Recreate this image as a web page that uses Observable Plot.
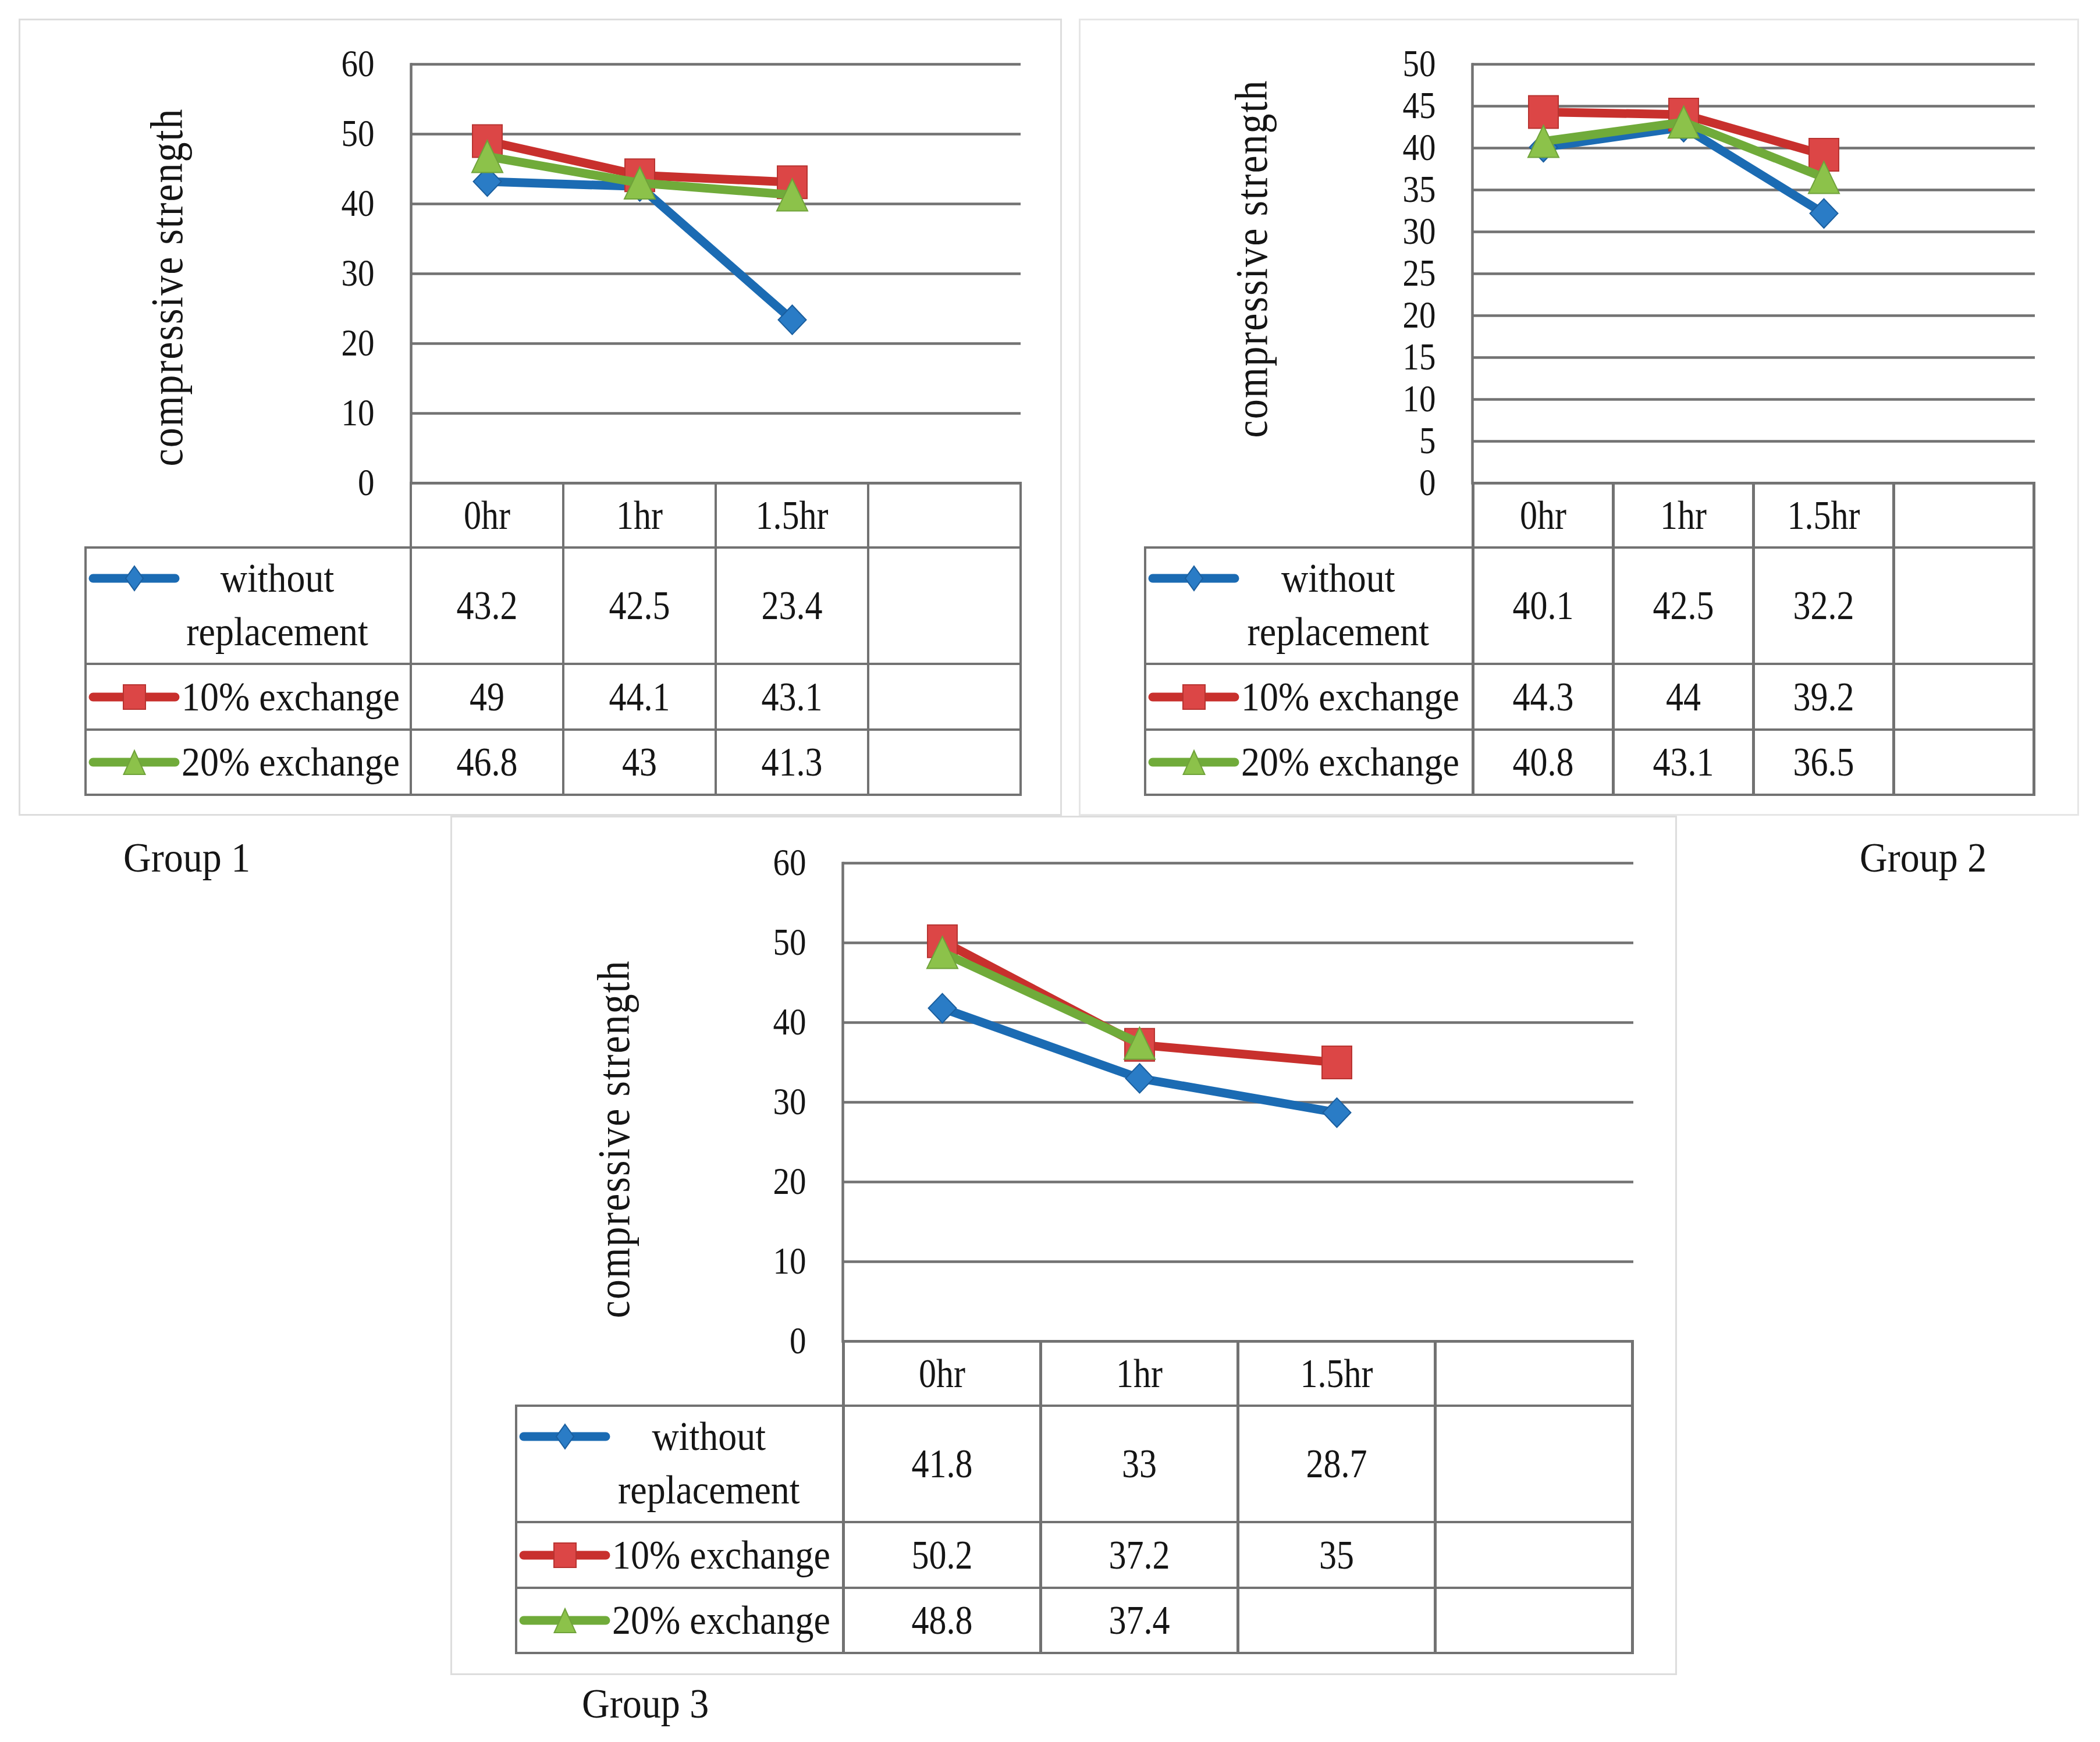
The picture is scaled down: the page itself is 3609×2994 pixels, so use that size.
<!DOCTYPE html>
<html>
<head>
<meta charset="utf-8">
<script src="https://cdn.jsdelivr.net/npm/d3@7"></script>
<script src="https://cdn.jsdelivr.net/npm/@observablehq/plot@0.6"></script>
<style>
  html, body { margin: 0; padding: 0; background: #fff; }
  body { width: 3609px; height: 2994px; position: relative; overflow: hidden;
         font-family: "Liberation Serif", "DejaVu Serif", serif; color: #151515; }
  .box { position: absolute; box-sizing: border-box; border: 3px solid #dddddd; }
  .abs { position: absolute; }
  .ln { position: absolute; background: #727272; }
  .cell { position: absolute; display: flex; align-items: center; justify-content: center;
          font-size: 60px; line-height: 1; white-space: nowrap; }
  .st { display: inline-block; transform: scaleY(1.17); }
  .st2 { display: inline-block; transform: scaleY(1.1); }
  .glabel { position: absolute; font-size: 66px; line-height: 66px; white-space: nowrap; }
  svg.plotsvg { position: absolute; overflow: visible; }
</style>
</head>
<body>
<script>
// ---------- data ----------
const times = ["0hr", "1hr", "1.5hr", ""];          // 4th column of the data table is empty
const seriesNames = ["without replacement", "10% exchange", "20% exchange"];

const g1Without = [43.2, 42.5, 23.4];
const g1Ex10    = [49, 44.1, 43.1];
const g1Ex20    = [46.8, 43, 41.3];

const g2Without = [40.1, 42.5, 32.2];
const g2Ex10    = [44.3, 44, 39.2];
const g2Ex20    = [40.8, 43.1, 36.5];

const g3Without = [41.8, 33, 28.7];
const g3Ex10    = [50.2, 37.2, 35];
const g3Ex20    = [48.8, 37.4, null];

const ticks60 = [0, 10, 20, 30, 40, 50, 60];
const ticks50 = [0, 5, 10, 15, 20, 25, 30, 35, 40, 45, 50];

const yTitle = "compressive strength";
const groupLabels = ["Group 1", "Group 2", "Group 3"];

// ---------- styles ----------
const GRID = "#727272";
const TEXT = "#151515";
const lineColors   = ["#1b6bb3", "#c8302d", "#70ab3a"];
const fillColors   = ["#2a7cc6", "#dc4646", "#8cc24a"];
const strokeColors = ["#1a5e9e", "#b83330", "#6fa23a"];

// marker shapes (slightly taller than wide, like the reference)
const symDiamond = {draw(c, size) { const r = Math.sqrt(size / Math.PI), hw = r, hh = r * 1.05;
  c.moveTo(0, -hh); c.lineTo(hw, 0); c.lineTo(0, hh); c.lineTo(-hw, 0); c.closePath(); }};
const symSquare = {draw(c, size) { const r = Math.sqrt(size / Math.PI), hw = r * 0.91, hh = r;
  c.moveTo(-hw, -hh); c.lineTo(hw, -hh); c.lineTo(hw, hh); c.lineTo(-hw, hh); c.closePath(); }};
const symTriangle = {draw(c, size) { const r = Math.sqrt(size / Math.PI), hw = r * 0.964;
  c.moveTo(0, -r); c.lineTo(hw, r); c.lineTo(-hw, r); c.closePath(); }};
const symbols = [symDiamond, symSquare, symTriangle];
const radii = [24, 28, 27.5];
const rowHeights = [111, 200, 113, 112];

const groups = [
  { series: [g1Without, g1Ex10, g1Ex20], ticks: ticks60,
    box: [32, 32, 1825, 1402], svgLeft: 32, svgTop: 32, width: 1793, height: 798,
    marginLeft: 674, marginRight: 71, marginTop: 78,
    titleDx: -419, titleDy: 23, tableLeft: 147, tableTop: 830,
    label: [212, 1441] },
  { series: [g2Without, g2Ex10, g2Ex20], ticks: ticks50,
    box: [1854, 32, 3573, 1402], svgLeft: 1854, svgTop: 32, width: 1717, height: 798,
    marginLeft: 676, marginRight: 74, marginTop: 78,
    titleDx: -379, titleDy: -26, tableLeft: 1968, tableTop: 830,
    label: [3196, 1441], faint: true },
  { series: [g3Without, g3Ex10, g3Ex20], ticks: ticks60,
    box: [774, 1402, 2882, 2879], svgLeft: 774, svgTop: 1402, width: 2108, height: 903,
    marginLeft: 674, marginRight: 75, marginTop: 81,
    titleDx: -393, titleDy: 63, tableLeft: 887, tableTop: 2305,
    label: [1000, 2895] }
];

function el(tag, cls, style, html, parent) {
  const e = document.createElement(tag);
  if (cls) e.className = cls;
  if (style) Object.assign(e.style, style);
  if (html != null) e.innerHTML = html;
  (parent || document.body).appendChild(e);
  return e;
}
const LW = 4.5;
function hline(x1, x2, y) { el("div", "ln", {left: (x1 - LW / 2) + "px", top: (y - LW / 2) + "px", width: (x2 - x1 + LW) + "px", height: LW + "px"}); }
function vline(x, y1, y2) { el("div", "ln", {left: (x - LW / 2) + "px", top: (y1 - LW / 2) + "px", width: LW + "px", height: (y2 - y1 + LW) + "px"}); }

function legendKey(si) {
  const c = 84, m = 30;
  let shape;
  if (si === 0) shape = `<path d="M${c},${m-21}L${c+15},${m}L${c},${m+21}L${c-15},${m}Z" fill="${fillColors[0]}" stroke="${strokeColors[0]}" stroke-width="2"/>`;
  else if (si === 1) shape = `<rect x="${c-19}" y="${m-21}" width="38" height="42" fill="${fillColors[1]}" stroke="${strokeColors[1]}" stroke-width="2"/>`;
  else shape = `<path d="M${c},${m-20}L${c+18.5},${m+21}L${c-18.5},${m+21}Z" fill="${fillColors[2]}" stroke="${strokeColors[2]}" stroke-width="2"/>`;
  return `<svg width="170" height="60" style="position:absolute;left:0;top:-30px;overflow:visible">
    <line x1="13" x2="154" y1="${m}" y2="${m}" stroke="${lineColors[si]}" stroke-width="15" stroke-linecap="round"/>${shape}</svg>`;
}

// stretch SVG glyphs vertically (the reference type is tall and narrow)
function stretchText(svg, k) {
  svg.querySelectorAll("text").forEach(t => {
    const tr = t.getAttribute("transform");
    if (tr) t.setAttribute("transform", tr + ` scale(1,${k})`);
  });
}

groups.forEach((g, gi) => {
  const [bx1, by1, bx2, by2] = g.box;
  el("div", "box", {left: bx1 + "px", top: by1 + "px", width: (bx2 - bx1) + "px", height: (by2 - by1) + "px",
                    borderColor: g.faint ? "#e6e6e6" : "#dddddd"});

  const rows = [];
  g.series.forEach((vals, si) => vals.forEach((v, i) => {
    if (v != null) rows.push({series: seriesNames[si], time: times[i], value: v});
  }));

  const marks = [
    Plot.ruleY(g.ticks, {stroke: GRID, strokeWidth: LW}),
    Plot.frame({anchor: "left", stroke: GRID, strokeWidth: LW}),
    Plot.axisY(g.ticks, {tickSize: 0, tickPadding: 63, fontSize: 57, fill: TEXT, label: null}),
    Plot.text([yTitle], {frameAnchor: "left", textAnchor: "middle", lineAnchor: "middle", rotate: -90,
                         dx: g.titleDx, dy: g.titleDy, fontSize: 68, fill: TEXT})
  ];
  seriesNames.forEach((name, si) => {
    const pts = rows.filter(d => d.series === name);
    marks.push(Plot.line(pts, {x: "time", y: "value", stroke: lineColors[si], strokeWidth: 15,
                               strokeLinejoin: "round", strokeLinecap: "round"}));
    marks.push(Plot.dot(pts, {x: "time", y: "value", symbol: symbols[si], r: radii[si],
                              fill: fillColors[si], stroke: strokeColors[si], strokeWidth: 2}));
  });

  const plot = Plot.plot({
    width: g.width, height: g.height,
    marginLeft: g.marginLeft, marginRight: g.marginRight, marginTop: g.marginTop, marginBottom: 0,
    style: {background: "transparent", fontFamily: "'Liberation Serif', serif", overflow: "visible"},
    x: {type: "point", domain: times, padding: 0.5, axis: null},
    y: {domain: [g.ticks[0], g.ticks[g.ticks.length - 1]], label: null},
    marks
  });
  plot.classList.add("plotsvg");
  plot.style.left = g.svgLeft + "px";
  plot.style.top = g.svgTop + "px";
  document.body.appendChild(plot);
  plot.querySelectorAll("text").forEach(t => {
    if (t.textContent === yTitle) t.style.letterSpacing = "2px";
  });
  stretchText(plot, 1.15);

  // ---------- data table below the chart, aligned on the x scale ----------
  const xs = plot.scale("x");
  const cx = times.map(tm => g.svgLeft + xs.apply(tm));
  const colW = cx[1] - cx[0];
  const left0 = cx[0] - colW / 2;
  const right = cx[times.length - 1] + colW / 2;
  const ys = [g.tableTop];
  rowHeights.forEach(h => ys.push(ys[ys.length - 1] + h));

  hline(left0, right, ys[0]);
  for (let k = 1; k < ys.length; k++) hline(g.tableLeft, right, ys[k]);
  vline(g.tableLeft, ys[1], ys[ys.length - 1]);
  for (let k = 0; k <= times.length; k++) vline(left0 + k * colW, ys[0], ys[ys.length - 1]);

  const cell = (x, y, w, h, txt) =>
    el("div", "cell", {left: x + "px", top: y + "px", width: w + "px", height: h + "px"},
       txt === "" ? "" : `<span class="st">${txt}</span>`);

  times.forEach((tm, i) => cell(left0 + i * colW, ys[0], colW, rowHeights[0], tm));
  g.series.forEach((vals, si) => {
    const y = ys[si + 1], h = rowHeights[si + 1];
    times.forEach((tm, i) => cell(left0 + i * colW, y, colW, h, vals[i] == null ? "" : String(vals[i])));
    const lw = left0 - g.tableLeft;
    const lc = el("div", "abs", {left: g.tableLeft + "px", top: y + "px", width: lw + "px", height: h + "px", fontSize: "64px"});
    const keyY = si === 0 ? 53 : h / 2;
    el("div", "abs", {left: "0px", top: keyY + "px"}, legendKey(si), lc);
    if (si === 0) {
      const words = seriesNames[0].split(" ");
      const tx = el("div", "abs", {left: "100px", right: "0px", top: "7px", textAlign: "center", whiteSpace: "nowrap"}, null, lc);
      words.forEach(w => el("div", null, {height: "92px", lineHeight: "92px"}, `<span class="st2">${w}</span>`, tx));
    } else {
      el("div", "abs", {left: "165px", top: "0px", height: h + "px", display: "flex", alignItems: "center",
                        whiteSpace: "nowrap", lineHeight: "1"}, `<span class="st2">${seriesNames[si]}</span>`, lc);
    }
  });

  el("div", "glabel", {left: g.label[0] + "px", top: g.label[1] + "px"}, `<span class="st2">${groupLabels[gi]}</span>`);
});
</script>
</body>
</html>
